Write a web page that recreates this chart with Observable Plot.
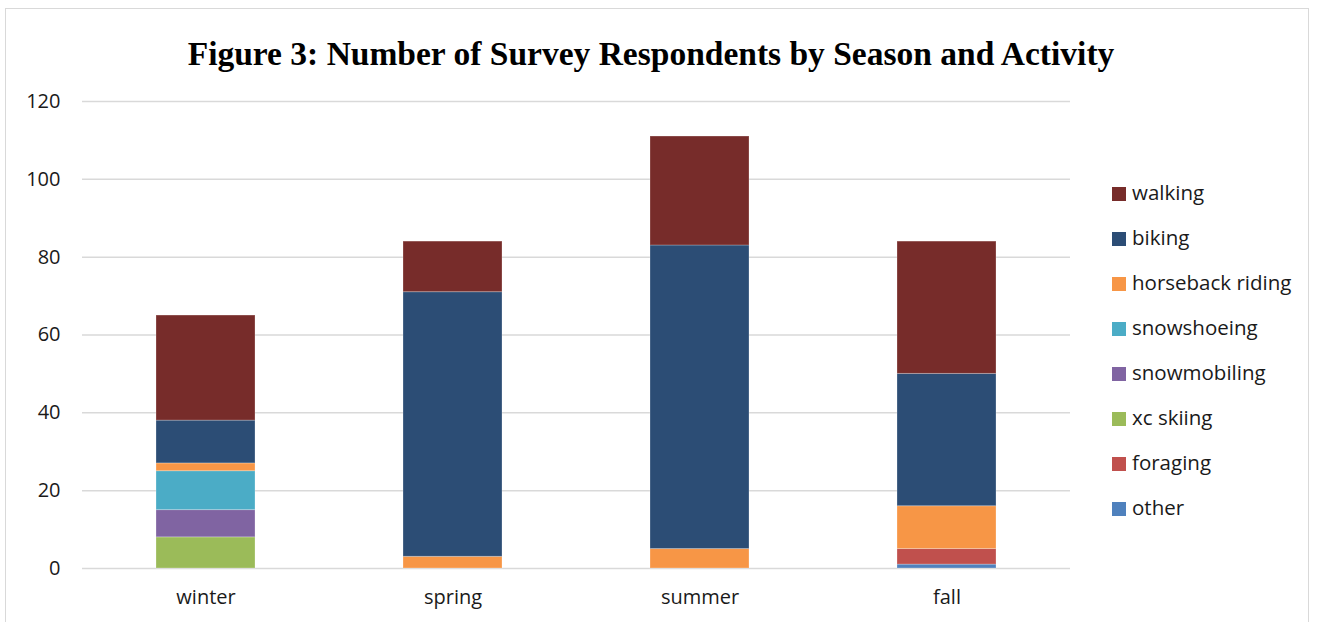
<!DOCTYPE html>
<html>
<head>
<meta charset="utf-8">
<script src="https://cdn.jsdelivr.net/npm/d3@7"></script>
<script src="https://cdn.jsdelivr.net/npm/@observablehq/plot@0.6"></script>
<style>
  html, body { margin: 0; padding: 0; background: #fff; }
  #wrap { position: relative; width: 1317px; height: 622px; overflow: hidden; }
  #frame { position: absolute; left: 5px; top: 8px; width: 1304px; height: 640px; border: 1px solid #d9d9d9; box-sizing: border-box; }
  #title { position: absolute; left: 0; top: 0; width: 1317px; height: 70px; }
  #title div { position: absolute; left: 0; width: 1302px; top: 35px; text-align: center; font-family: "Liberation Serif", "DejaVu Serif", serif; font-weight: bold; font-size: 33.5px; color: #000; line-height: 38px; }
  #chart { position: absolute; left: 0; top: 70px; }
  #legend { position: absolute; left: 1112px; top: 0; font-family: "Open Sans", Lato, sans-serif; font-size: 20.5px; color: #1a1a1a; }
  .item { position: absolute; left: 0; white-space: nowrap; height: 26px; line-height: 26px; }
  .sw { display: inline-block; width: 14px; height: 14px; vertical-align: middle; margin-right: 6px; position: relative; top: -1px; }
</style>
</head>
<body>
<div id="wrap">
  <div id="frame"></div>
  <div id="title"><div>Figure 3: Number of Survey Respondents by Season and Activity</div></div>
  <div id="chart"></div>
  <div id="legend"></div>
</div>
<script>
const seasons = ["winter", "spring", "summer", "fall"];
// stack order bottom -> top
const activities = ["other", "foraging", "xc skiing", "snowmobiling", "snowshoeing", "horseback riding", "biking", "walking"];
const colors = ["#4F81BD", "#C0504D", "#9BBB59", "#8064A2", "#4BACC6", "#F79646", "#2C4D75", "#772C2A"];

const other           = [0, 0, 0, 1];
const foraging        = [0, 0, 0, 4];
const xcSkiing        = [8, 0, 0, 0];
const snowmobiling    = [7, 0, 0, 0];
const snowshoeing     = [10, 0, 0, 0];
const horsebackRiding = [2, 3, 5, 11];
const biking          = [11, 68, 78, 34];
const walking         = [27, 13, 28, 34];

const yTicks = [0, 20, 40, 60, 80, 100, 120];

const series = [other, foraging, xcSkiing, snowmobiling, snowshoeing, horsebackRiding, biking, walking];
const data = [];
seasons.forEach((s, i) => {
  activities.forEach((a, j) => {
    data.push({season: s, activity: a, value: series[j][i]});
  });
});

const chart = Plot.plot({
  width: 1317,
  height: 552,
  marginTop: 31,
  marginBottom: 54,
  marginLeft: 82,
  marginRight: 247,
  style: { fontFamily: "'Open Sans', Lato, sans-serif", fontSize: "20px", color: "#1a1a1a", overflow: "visible" },
  x: { domain: seasons, paddingInner: 0.6, paddingOuter: 0.3, label: null, tickSize: 0, tickPadding: 21 },
  y: { domain: [0, 120], ticks: yTicks, label: null, tickSize: 0, tickPadding: 22 },
  color: { domain: activities, range: colors },
  marks: [
    Plot.ruleY(yTicks, { stroke: "#d9d9d9", strokeWidth: 1.5 }),
    Plot.barY(data, Plot.stackY({
      x: "season",
      y: "value",
      fill: "activity",
      order: activities,
      stroke: "#ffffff",
      strokeOpacity: 0.25,
      strokeWidth: 1
    }))
  ]
});
document.getElementById("chart").appendChild(chart);

const legend = document.getElementById("legend");
const legendOrder = activities.slice().reverse();
legendOrder.forEach((a, k) => {
  const div = document.createElement("div");
  div.className = "item";
  div.style.top = (192 - 13 + k * 45) + "px";
  const sw = document.createElement("span");
  sw.className = "sw";
  sw.style.background = colors[activities.indexOf(a)];
  div.appendChild(sw);
  div.appendChild(document.createTextNode(a));
  legend.appendChild(div);
});
</script>
</body>
</html>
